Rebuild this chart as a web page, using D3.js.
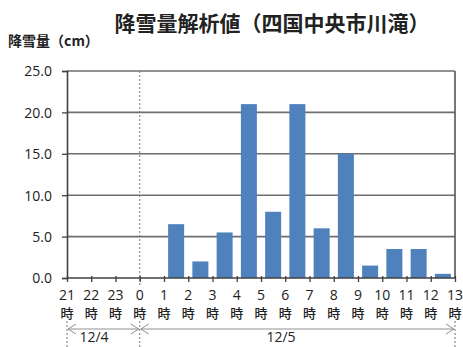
<!DOCTYPE html>
<html><head><meta charset="utf-8">
<script src="https://cdn.jsdelivr.net/npm/d3@7"></script>
<style>
html,body{margin:0;padding:0;background:#fff;}
svg{display:block;font-family:"Noto Sans CJK JP","Noto Sans",sans-serif;}
</style></head>
<body>
<svg id="c" width="463" height="347"></svg>
<script>
const title = "降雪量解析値（四国中央市川滝）";
const yLabel = "降雪量（cm）";
const hourLabels = ["21","22","23","0","1","2","3","4","5","6","7","8","9","10","11","12","13"];
const intervals = ["21-22","22-23","23-0","0-1","1-2","2-3","3-4","4-5","5-6","6-7","7-8","8-9","9-10","10-11","11-12","12-13"];
const snowfall = [0,0,0,0,6.5,2.0,5.5,21.0,8.0,21.0,6.0,15.0,1.5,3.5,3.5,0.5];
const yTicks = [0,5,10,15,20,25];
const dateRanges = [{label:"12/4", from:"21", to:"0", lx:94},{label:"12/5", from:"0", to:"13", lx:281}];

const svg = d3.select("#c");
const L=67, R=455, T=71, B=278;
const xPt = d3.scalePoint().domain(hourLabels).range([L,R]);
const xB = d3.scaleBand().domain(intervals).range([L,R]).paddingInner(0.34).paddingOuter(0.17);
const y = d3.scaleLinear().domain([0,25]).range([B,T]);

// gridlines
svg.append("g").selectAll("line").data(yTicks.filter(d=>d>0)).join("line")
  .attr("x1",L).attr("x2",R).attr("y1",d=>y(d)).attr("y2",d=>y(d))
  .attr("stroke","#6e6e6e").attr("stroke-width",1.6);

// right border
svg.append("line").attr("x1",R).attr("x2",R).attr("y1",T).attr("y2",B)
  .attr("stroke","#555").attr("stroke-width",1.6);

// dashed line at 0時
const x0 = xPt("0");
svg.append("line").attr("x1",x0).attr("x2",x0).attr("y1",T).attr("y2",B+7)
  .attr("stroke","#777").attr("stroke-width",1).attr("stroke-dasharray","2,2");

// bars
svg.append("g").selectAll("rect").data(snowfall.map((v,i)=>({k:intervals[i],v}))).join("rect")
  .filter(d=>d.v>0)
  .attr("x",d=>xB(d.k)).attr("width",xB.bandwidth())
  .attr("y",d=>y(d.v)).attr("height",d=>B-y(d.v))
  .attr("fill","#4f81bd");

// y axis
const yAxis = d3.axisLeft(y).tickValues(yTicks).tickFormat(d3.format(".1f")).tickSize(5).tickPadding(10);
const gy = svg.append("g").attr("transform",`translate(${L},0)`).call(yAxis);
gy.select(".domain").attr("stroke","#404040").attr("stroke-width",1.6);
gy.selectAll(".tick line").attr("stroke","#404040").attr("stroke-width",1.3);
gy.selectAll("text").attr("font-size",14).attr("fill","#222").attr("font-family","'Open Sans','Noto Sans CJK JP',sans-serif").attr("dy","0.35em");

// x axis
const xAxis = d3.axisBottom(xPt).tickSize(4).tickFormat("");
const gx = svg.append("g").attr("transform",`translate(0,${B})`).call(xAxis);
gx.select(".domain").attr("stroke","#404040").attr("stroke-width",1.6).attr("d",`M${L},0H${R}`);
gx.selectAll(".tick line").attr("stroke","#404040").attr("stroke-width",1.3).attr("y1",-2);

// x labels
const xl = svg.append("g").attr("fill","#222").attr("font-size",14).attr("text-anchor","middle");
xl.selectAll("text.n").data(hourLabels).join("text").attr("class","n")
  .attr("x",d=>xPt(d)).attr("y",300).attr("font-family","'Open Sans','Noto Sans CJK JP',sans-serif").text(d=>d);
xl.selectAll("text.h").data(hourLabels).join("text").attr("class","h")
  .attr("x",d=>xPt(d)).attr("y",318).attr("font-size",13).attr("font-weight",500).text("時");

// date range dashed verticals
const dashX = [xPt("21"), xPt("0"), xPt("13")];
svg.append("g").selectAll("line").data(dashX).join("line")
  .attr("x1",d=>d).attr("x2",d=>d).attr("y1",321).attr("y2",347)
  .attr("stroke","#777").attr("stroke-width",1).attr("stroke-dasharray","2,2");

// arrows
const ay = 329;
const ag = svg.append("g").attr("stroke","#909090").attr("stroke-width",1).attr("fill","none");
dateRanges.forEach(r=>{
  const a = xPt(r.from)+1, b = xPt(r.to)-1;
  ag.append("line").attr("x1",a).attr("x2",b).attr("y1",ay).attr("y2",ay);
  ag.append("path").attr("d",`M${a+8},${ay-5}L${a},${ay}L${a+8},${ay+5}`);
  ag.append("path").attr("d",`M${b-8},${ay-5}L${b},${ay}L${b-8},${ay+5}`);
  svg.append("text").attr("x",r.lx).attr("y",342).attr("text-anchor","middle")
    .attr("font-size",14).attr("fill","#222").attr("font-family","'Open Sans','Noto Sans CJK JP',sans-serif").text(r.label);
});

// titles
svg.append("text").attr("x",272).attr("y",31).attr("text-anchor","middle")
  .attr("font-size",21).attr("font-weight",700).attr("fill","#222").text(title);
svg.append("text").attr("x",8).attr("y",46)
  .attr("font-size",14).attr("font-weight",700).attr("fill","#222").text(yLabel);
</script>
</body></html>
